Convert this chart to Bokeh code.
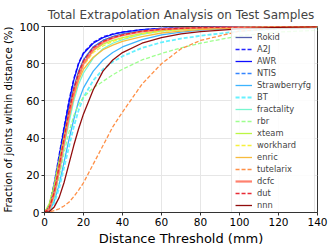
from bokeh.plotting import figure
from bokeh.models import Range1d, FixedTicker, Legend, LegendItem
from bokeh.embed import file_html
from bokeh.resources import INLINE

x_mm = [0, 2.5, 5, 7.5, 10, 12.5, 15, 17.5, 20, 25, 30, 35, 40, 50, 60, 70, 80, 100, 120, 140]

rokid = [0, 3, 13, 27, 42, 56, 67, 76, 82, 89, 92.5, 94.5, 96, 97.5, 98.5, 99, 99.3, 99.7, 100, 100]
a2j = [0, 4, 16, 31, 46, 60, 72, 80.5, 86, 91.5, 94.5, 96, 97, 98.3, 99, 99.3, 99.5, 99.8, 100, 100]
awr = [0, 3.5, 15, 30, 45, 59, 71, 80, 85.5, 91, 94, 95.8, 97, 98.3, 99, 99.3, 99.5, 99.8, 100, 100]
ntis = [0, 3, 13, 26, 40, 54, 66, 75, 82, 89, 92.5, 94.5, 96, 97.8, 98.7, 99.2, 99.5, 99.8, 100, 100]
strawberryfg = [0, 1, 6, 15, 27, 39, 50, 60, 67, 76, 82, 86, 89, 93, 95.5, 97, 98, 99.2, 99.8, 100]
bt = [0, 1, 5, 13, 24, 35, 46, 55, 62, 71, 77, 81, 84, 88.5, 91.5, 93.5, 95, 97.5, 98.8, 99.5]
fractality = [0, 2, 9, 21, 35, 48, 60, 69, 75, 83, 88, 91, 93, 95.8, 97.5, 98.3, 99, 99.6, 100, 100]
rbr = [0, 1.5, 8, 19, 32, 43, 52, 58, 62, 67, 70.5, 74, 77, 82, 85.5, 88.5, 91, 95, 97, 98]
xteam = [0, 5, 15, 28, 41, 54, 65, 74, 80, 87, 90.5, 92.5, 94, 96.3, 97.8, 98.5, 99, 99.6, 100, 100]
workhard = [0, 3, 12, 25, 39, 52, 63, 72, 79, 86, 89.5, 92, 93.5, 96, 97.5, 98.3, 98.8, 99.5, 100, 100]
enric = [0, 2.5, 11, 24, 38, 51, 62, 71, 77, 83.5, 87.5, 90, 92, 94.5, 96.5, 97.5, 98.3, 99.3, 99.8, 100]
tutelarix = [0, 0.3, 1, 2, 3.5, 5.5, 8.5, 12, 16, 26, 36, 46, 54, 69, 80, 88, 92.5, 97.5, 99, 99.8]
dcfc = [0, 2, 10, 23, 38, 52, 64, 73, 80, 87.5, 91.5, 93.8, 95.3, 97.3, 98.5, 99, 99.4, 99.8, 100, 100]
dut = [0, 2.5, 11, 25, 40, 54, 66, 75, 81.5, 88.5, 92, 94, 95.5, 97.5, 98.5, 99, 99.4, 99.8, 100, 100]
nnn = [0, 0.5, 3, 8, 16, 26, 36, 45, 53, 66, 76, 82, 86, 91, 94, 96, 97.2, 98.7, 99.5, 100]

names = ["Rokid", "A2J", "AWR", "NTIS", "Strawberryfg", "BT", "fractality", "rbr",
         "xteam", "workhard", "enric", "tutelarix", "dcfc", "dut", "nnn"]
series = [rokid, a2j, awr, ntis, strawberryfg, bt, fractality, rbr,
          xteam, workhard, enric, tutelarix, dcfc, dut, nnn]

x_ticks = [0, 20, 40, 60, 80, 100, 120, 140]
y_ticks = [0, 20, 40, 60, 80, 100]

colors = ["#4a55a8", "#1a1aff", "#0000ff", "#2a7fff", "#33b0ff", "#5ef0ff", "#70f5cc", "#99ff88",
          "#b8f53a", "#f5f030", "#f7b733", "#ff8a3d", "#ff7a66", "#e8202a", "#8b0000"]
dashes = ["solid", "dashed", "solid", "dashed", "solid", "dashed", "solid", "dashed",
          "solid", "dashed", "solid", "dashed", "solid", "dashed", "solid"]
widths = [1.3, 1.3, 1.3, 1.3, 1.3, 1.8, 1.3, 1.3, 1.3, 1.3, 1.3, 1.3, 2.2, 1.3, 1.3]

FONT = "DejaVu Sans"

p = figure(frame_width=273, frame_height=186, output_backend="svg", toolbar_location=None,
           x_range=Range1d(0, 140), y_range=Range1d(0, 100),
           min_border_left=34, min_border_right=17, min_border_top=20, min_border_bottom=35)

p.title.text = "Total Extrapolation Analysis on Test Samples"
p.title.align = "center"
p.title.text_font = FONT
p.title.text_font_size = "12px"
p.title.text_font_style = "normal"
p.title.offset = 0

p.outline_line_color = "#333333"
p.outline_line_width = 1

items = []
for nm, ys, c, d, w in zip(names, series, colors, dashes, widths):
    dash = "4 2" if d == "dashed" else "solid"
    r = p.line(x_mm, ys, line_color=c, line_width=w, line_dash=dash, line_alpha=0.95)
    items.append(LegendItem(label=nm, renderers=[r]))

for ax in (p.xaxis[0], p.yaxis[0]):
    ax.major_label_text_font = FONT
    ax.major_label_text_font_size = "10.5px"
    ax.major_label_text_color = "black"
    ax.axis_line_color = "#333333"
    ax.major_tick_line_color = "#333333"
    ax.major_tick_out = 3
    ax.major_tick_in = 0
    ax.minor_tick_line_color = None
    ax.axis_label_text_font = FONT
    ax.axis_label_text_font_style = "normal"
    ax.axis_label_text_color = "black"
    ax.major_label_standoff = 2

p.xaxis.ticker = FixedTicker(ticks=x_ticks)
p.yaxis.ticker = FixedTicker(ticks=y_ticks)
p.xaxis.axis_label = "Distance Threshold (mm)"
p.xaxis.axis_label_text_font_size = "13px"
p.xaxis.axis_label_standoff = 2
p.yaxis.axis_label = "Fraction of joints within distance (%)"
p.yaxis.axis_label_text_font_size = "10.2px"
p.yaxis.axis_label_standoff = 2

p.xgrid.grid_line_color = "#e6e6e6"
p.ygrid.grid_line_color = "#e6e6e6"

legend = Legend(items=items, location="top_right")
legend.label_text_font = FONT
legend.label_text_font_size = "8.3px"
legend.label_height = 10
legend.glyph_height = 10
legend.glyph_width = 17
legend.spacing = 2
legend.padding = 3
legend.margin = 2
legend.label_standoff = 5
legend.border_line_color = "#cccccc"
legend.background_fill_alpha = 0.85
p.add_layout(legend)

open("out.html", "w").write(file_html(p, INLINE))
